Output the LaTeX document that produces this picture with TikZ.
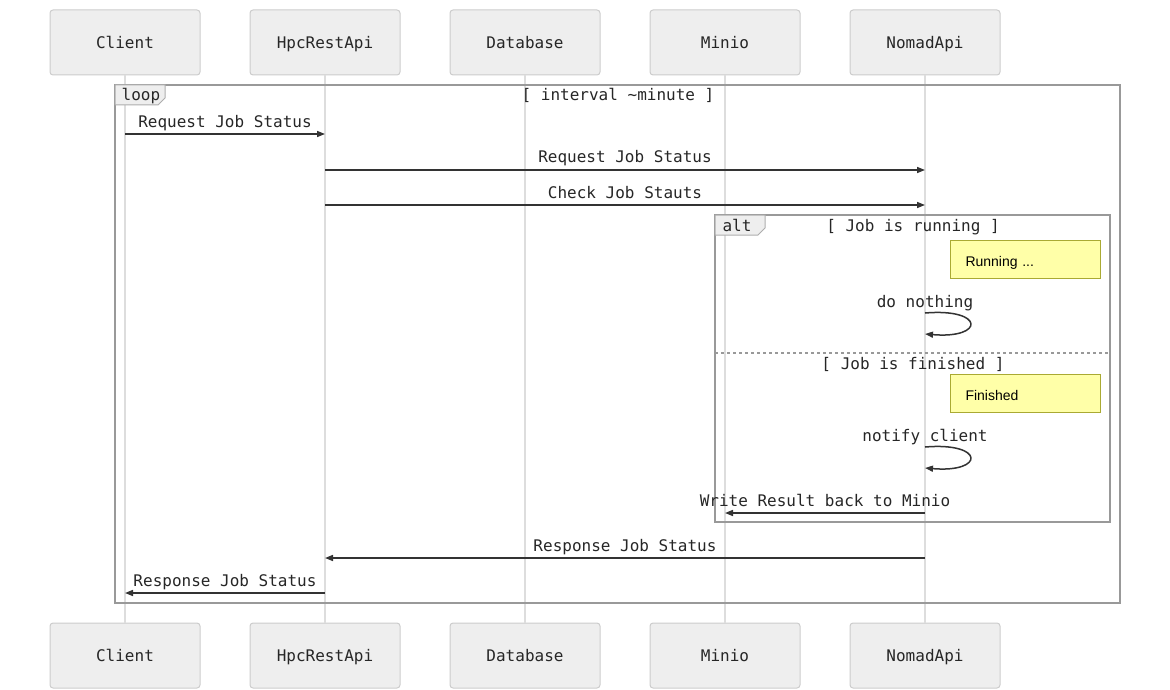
\documentclass[tikz,border=0pt]{standalone}
\usepackage{fontspec}
\setmonofont{DejaVu Sans Mono}
\newfontfamily\notefont{Liberation Sans}
\usetikzlibrary{arrows.meta}
\definecolor{actfill}{HTML}{EEEEEE}
\definecolor{actdraw}{HTML}{CCCCCC}
\definecolor{lifeline}{HTML}{DDDDDD}
\definecolor{framec}{HTML}{999999}
\definecolor{msgc}{HTML}{333333}
\definecolor{notefill}{HTML}{FFFFA8}
\definecolor{notedraw}{HTML}{AAAA33}
\tikzset{
  actor/.style={draw=actdraw,fill=actfill,line width=1pt,rounded corners=3pt,minimum width=150pt,minimum height=65pt,font=\fontsize{16}{19}\selectfont\ttfamily,text=black!85,text height=12pt,text depth=0pt},
  life/.style={draw=lifeline,line width=1.5pt},
  msg/.style={draw=msgc,line width=1.5pt,-{Triangle[length=8pt,width=6pt]}},
  lbl/.style={font=\fontsize{16}{19}\selectfont\ttfamily,text=black!85,inner sep=0pt,text height=12pt,text depth=0pt},
  frame/.style={draw=framec,line width=2pt},
  tag/.style={draw=framec!80,fill=actfill,line width=1pt},
  note/.style={draw=notedraw,fill=notefill,line width=1pt,minimum width=150pt,minimum height=38pt,anchor=north west,font=\fontsize{14}{17}\selectfont\notefont,text width=120pt,align=left,inner xsep=15pt,text height=14pt,text depth=0pt},
  sep/.style={draw=framec,line width=1.2pt,dash pattern=on 3pt off 3pt},
}
\begin{document}
\begin{tikzpicture}[x=1pt,y=-1pt]
\useasboundingbox (0,0) rectangle (1170,690);
% actors
\foreach \n/\x/\t in {c/125/Client,h/325/HpcRestApi,d/525/Database,m/725/Minio,n/925/NomadApi}{
  \node[actor] (\n1) at (\x,42.5) {\t};
  \node[actor] (\n2) at (\x,655.5) {\t};
  \draw[life] (\n1.south) -- (\n2.north);
}
% loop frame
\draw[frame] (115,85) rectangle (1120,603);
\draw[tag] (115,85) -- (165,85) -- (165,98) -- (158,105) -- (115,105) -- cycle;
\node[lbl] (looplbl) at (141,95) {loop};
\node[lbl] (loopcond) at (618,95) {[ interval \textasciitilde minute ]};
% messages
\node[lbl] (t1) at (225,122) {Request Job Status};
\draw[msg] (c1 |- 0,134) -- (h1 |- 0,134);
\node[lbl] (t2) at (625,157) {Request Job Status};
\draw[msg] (h1 |- 0,170) -- (n1 |- 0,170);
\node[lbl] (t3) at (625,192) {Check Job Stauts};
\draw[msg] (h1 |- 0,205) -- (n1 |- 0,205);
% alt frame
\draw[frame] (715,215) rectangle (1110,522);
\draw[tag] (715,215) -- (765,215) -- (765,228) -- (758,235) -- (715,235) -- cycle;
\node[lbl] (altlbl) at (737,225) {alt};
\node[lbl] (altc1) at (913,225) {[ Job is running ]};
\node[note] (note1) at (950,240) {Running ...};
\node[lbl] (t4) at (925,301) {do nothing};
\draw[msg] (n1 |- 0,313) .. controls (985,308) and (985,339) .. (n1 |- 0,334);
\draw[sep] (715,353) -- (1110,353);
\node[lbl] (altc2) at (913,363) {[ Job is finished ]};
\node[note] (note2) at (950,374) {Finished};
\node[lbl] (t5) at (925,435) {notify client};
\draw[msg] (n1 |- 0,447) .. controls (985,442) and (985,473) .. (n1 |- 0,468);
\node[lbl] (t6) at (825,500) {Write Result back to Minio};
\draw[msg] (n1 |- 0,513) -- (m1 |- 0,513);
\node[lbl] (t7) at (625,545) {Response Job Status};
\draw[msg] (n1 |- 0,558) -- (h1 |- 0,558);
\node[lbl] (t8) at (225,580) {Response Job Status};
\draw[msg] (h1 |- 0,593) -- (c1 |- 0,593);
\end{tikzpicture}
\end{document}
